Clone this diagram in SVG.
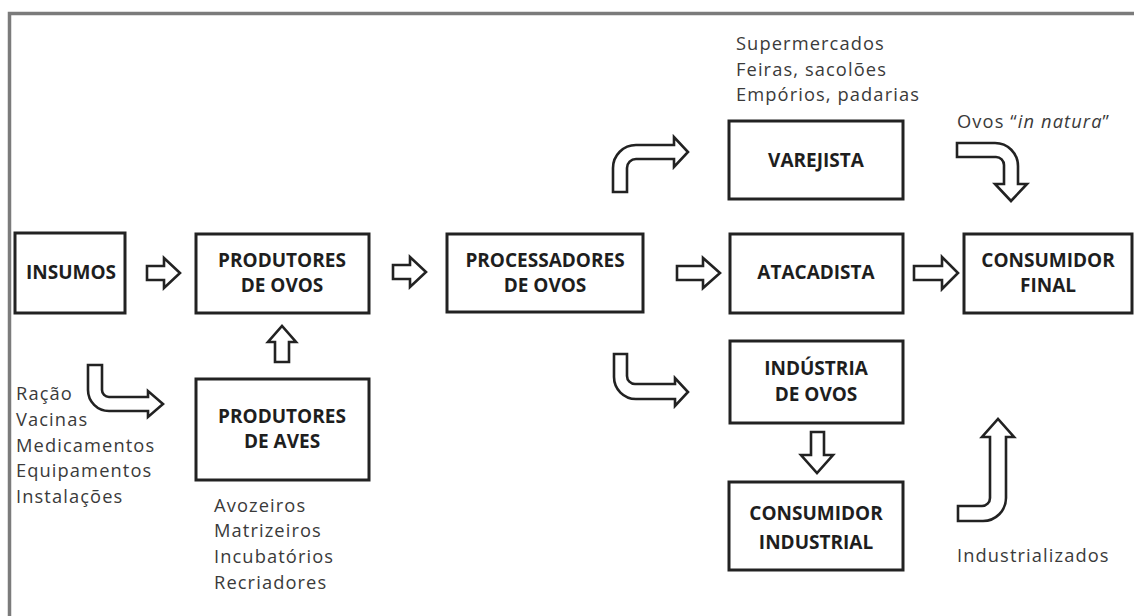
<svg xmlns="http://www.w3.org/2000/svg" width="1134" height="616" viewBox="0 0 1134 616">
<style>
.box{fill:#fff;stroke:#222;stroke-width:3}
.lbl{font-family:"Open Sans","Liberation Sans",sans-serif;font-weight:700;font-size:19px;fill:#1e1e1e;text-anchor:middle}
.txt{font-family:"Open Sans","Liberation Sans",sans-serif;font-size:18.3px;letter-spacing:1.1px;fill:#3a3a3a}
.arr{fill:#fff;stroke:#222;stroke-width:2.6;stroke-linejoin:miter}
</style>
<rect width="1134" height="616" fill="#fff"/>
<path d="M9.5,616 V13.5 H1134" fill="none" stroke="#7b7b7b" stroke-width="3.5"/>

<g id="insumos"><rect class="box" x="15" y="233" width="110" height="80"/><text class="lbl" x="71" y="279">INSUMOS</text></g>
<g id="produtores-ovos"><rect class="box" x="196" y="234" width="173" height="79"/><text class="lbl" x="282" y="267">PRODUTORES<tspan x="282" y="292">DE OVOS</tspan></text></g>
<g id="produtores-aves"><rect class="box" x="196" y="379" width="173" height="101"/><text class="lbl" x="282" y="423">PRODUTORES<tspan x="282" y="448">DE AVES</tspan></text></g>
<g id="processadores"><rect class="box" x="447" y="234" width="196" height="78"/><text class="lbl" x="545" y="267">PROCESSADORES<tspan x="545" y="292">DE OVOS</tspan></text></g>
<g id="varejista"><rect class="box" x="729" y="121" width="174" height="78"/><text class="lbl" x="816" y="167">VAREJISTA</text></g>
<g id="atacadista"><rect class="box" x="730" y="234" width="173" height="79"/><text class="lbl" x="816" y="279">ATACADISTA</text></g>
<g id="consumidor-final"><rect class="box" x="964" y="234" width="168" height="79"/><text class="lbl" x="1048" y="267">CONSUMIDOR<tspan x="1048" y="292">FINAL</tspan></text></g>
<g id="industria"><rect class="box" x="730" y="341" width="173" height="82"/><text class="lbl" x="816" y="375">INDÚSTRIA<tspan x="816" y="401">DE OVOS</tspan></text></g>
<g id="consumidor-industrial"><rect class="box" x="729" y="482" width="174" height="88"/><text class="lbl" x="816" y="520">CONSUMIDOR<tspan x="816" y="549">INDUSTRIAL</tspan></text></g>

<g id="labels">
<text class="txt" x="736" y="50">Supermercados<tspan x="736" y="76">Feiras, sacolões</tspan><tspan x="736" y="101">Empórios, padarias</tspan></text>
<text class="txt" x="957" y="128">Ovos “<tspan font-style="italic">in natura</tspan>”</text>
<text class="txt" x="16" y="400">Ração<tspan x="16" y="426">Vacinas</tspan><tspan x="16" y="452">Medicamentos</tspan><tspan x="16" y="477">Equipamentos</tspan><tspan x="16" y="503">Instalações</tspan></text>
<text class="txt" x="214" y="512">Avozeiros<tspan x="214" y="537">Matrizeiros</tspan><tspan x="214" y="563">Incubatórios</tspan><tspan x="214" y="589">Recriadores</tspan></text>
<text class="txt" x="957" y="562">Industrializados</text>
</g>

<g id="connectors">
<path class="arr" d="M147,266 H164 V258 L180,273 L164,288 V280 H147 Z"/>
<path class="arr" d="M393,265 H410 V257 L426,272 L410,287 V279 H393 Z"/>
<path class="arr" d="M677,266 H703 V258 L720,273 L703,288 V280 H677 Z"/>
<path class="arr" d="M914,266 H942 V257 L958,273 L942,289 V280 H914 Z"/>
<path class="arr" d="M275,362 V342 H268 L282,326 L296,342 H289 V362 Z"/>
<path class="arr" d="M811,432 V455 H801 L817,473 L833,455 H824 V432 Z"/>
<path class="arr" d="M88,365 H102 V390 A7,7 0 0 0 109,397 H148 V391 L163,404 L148,417 V411 H109 A21,21 0 0 1 88,390 Z"/>
<path class="arr" d="M613,192 V168 A23,23 0 0 1 636,145 H674 V137 L688,152 L674,167 V159 H636 A9,9 0 0 0 627,168 V192 Z"/>
<path class="arr" d="M957,143 H995 A23,23 0 0 1 1018,166 V184 H1027 L1011,201 L995,184 H1004 V165 A8,8 0 0 0 996,157 H957 Z"/>
<path class="arr" d="M614,354 H627 V376 A8,8 0 0 0 635,384 H675 V378 L688,392 L675,406 V399 H636 A22,22 0 0 1 614,377 Z"/>
<path class="arr" d="M958,506 H982 A8,8 0 0 0 990,498 V437 H982 L998,419 L1014,437 H1006 V498 A23,23 0 0 1 983,521 H958 Z"/>
</g>
</svg>
